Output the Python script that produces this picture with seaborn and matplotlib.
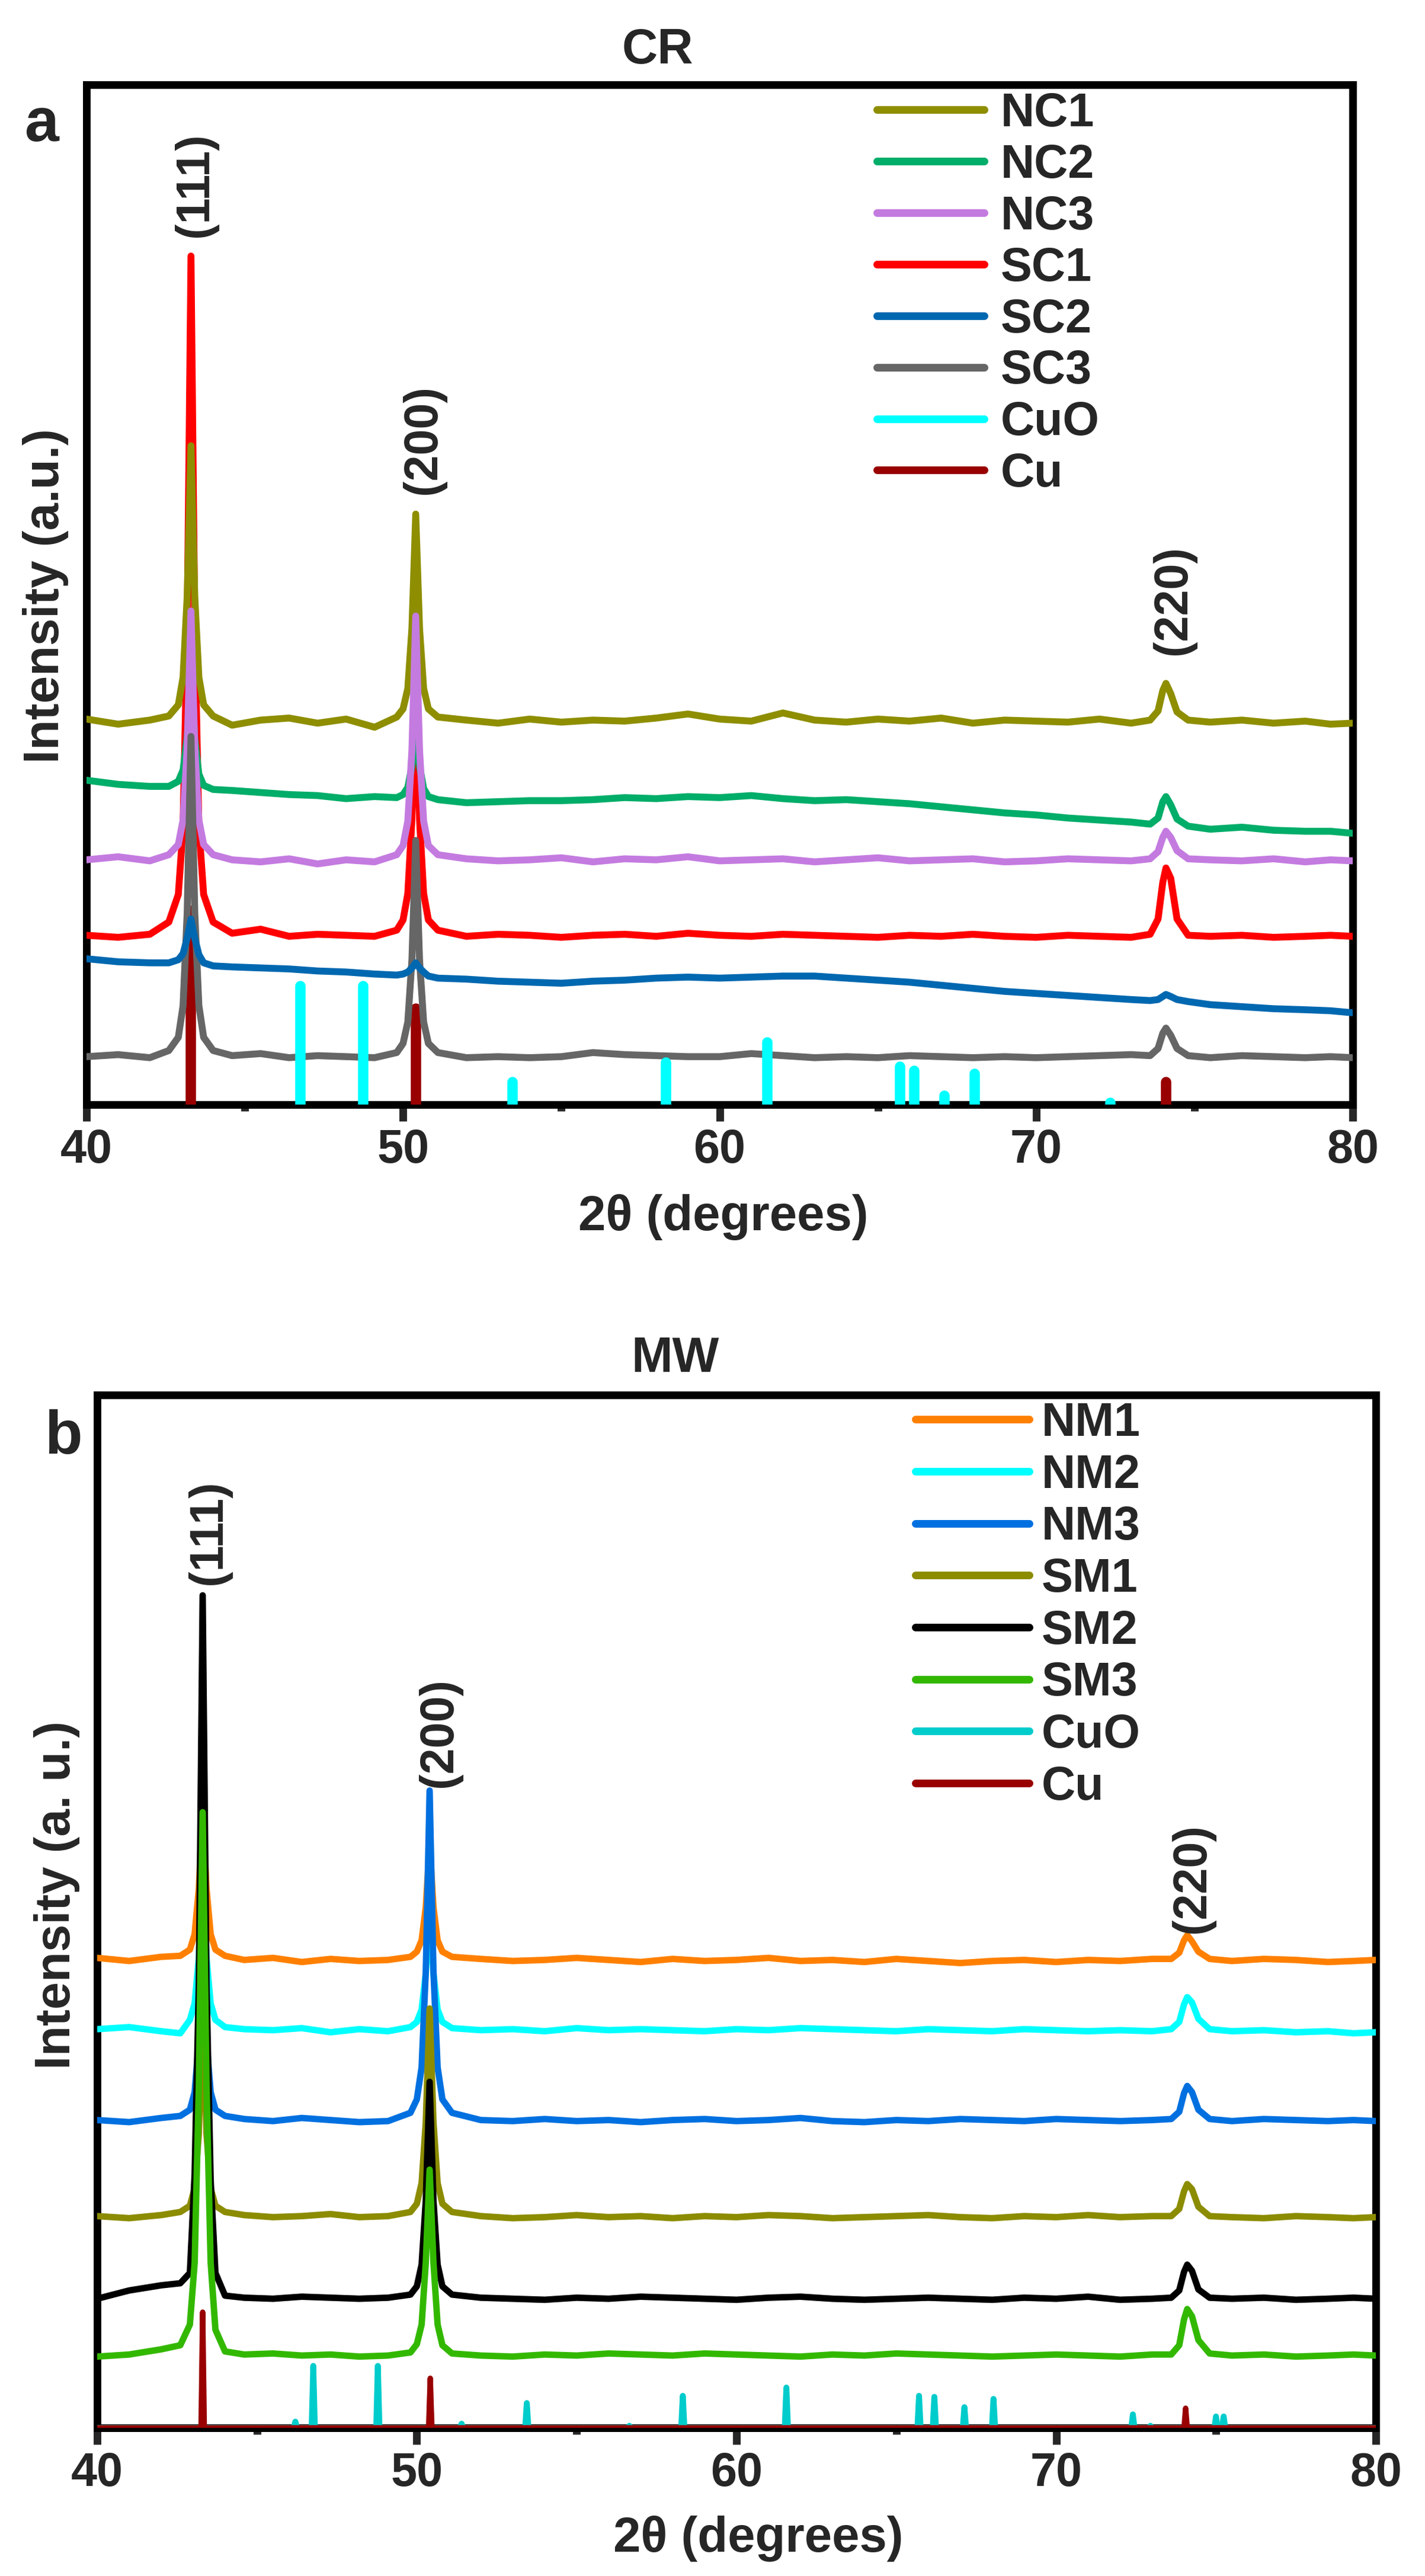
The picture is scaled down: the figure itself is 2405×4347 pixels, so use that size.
import matplotlib
matplotlib.use("Agg")
import matplotlib.pyplot as plt
import seaborn as sns
from matplotlib.collections import LineCollection
from matplotlib.legend_handler import HandlerLineCollection
from matplotlib.ticker import MultipleLocator

# shared 2-theta grid (degrees)
TT = [40, 41, 42,
      42.6, 42.9, 43.05, 43.18, 43.3, 43.42, 43.55, 43.7, 44.0,
      44.6, 45.5, 46.4, 47.3, 48.2, 49.1,
      49.8, 50.0, 50.15, 50.28, 50.4, 50.52, 50.65, 50.8, 51.1,
      52, 53, 54, 55, 56, 57, 58, 59, 60, 61, 62,
      63, 64, 65, 66, 67, 68, 69, 70, 71, 72, 73,
      73.6, 73.85, 74.0, 74.1, 74.25, 74.45, 74.8,
      75.5, 76.5, 77.5, 78.5, 79.3, 80]

# ---- panel a (CR), offset intensities, a.u. ----
NC1 = [378, 373, 377,
       381, 392, 419, 498, 646, 498, 419, 392, 381,
       372, 377, 379, 374, 378, 370,
       380, 388, 408, 467, 579, 467, 408, 388, 380,
       377, 374, 378, 375, 377, 376, 379, 383, 378, 376, 384,
       377, 375, 378, 376, 379, 374, 377, 376, 375, 378, 374,
       377, 386, 406, 413, 403, 385, 377,
       375, 377, 374, 376, 373, 374]
NC2 = [318, 314, 312,
       312, 317, 328, 360, 420, 358, 324, 313, 309,
       308, 306, 304, 303, 300, 302,
       301, 304, 311, 332, 370, 332, 310, 302, 299,
       296, 297, 298, 298, 299, 301, 300, 302, 301, 303, 300,
       298, 299, 297, 295, 292, 289, 286, 284, 281, 279, 277,
       275, 281, 297, 302, 294, 280, 273,
       270, 272, 269, 268, 268, 266]
NC3 = [240, 243, 239,
       245, 255, 279, 350, 484, 350, 279, 255, 245,
       240, 238, 241, 236, 240, 238,
       245, 254, 278, 348, 479, 348, 278, 254, 245,
       241, 239, 240, 242, 238, 241, 240, 243, 239, 240, 241,
       238, 240, 242, 239, 240, 241, 238, 239, 241, 240, 239,
       241, 248, 262, 268, 262, 249, 241,
       240, 239, 241, 238, 240, 239]
SC1 = [166, 164, 167,
       179, 206, 272, 466, 832, 466, 272, 206, 179,
       168, 172, 165, 167, 166, 165,
       171, 181, 207, 280, 420, 280, 207, 181, 171,
       165, 167, 166, 164, 166, 167, 165, 168, 166, 165, 167,
       166, 165, 164, 166, 165, 167, 165, 164, 166, 165, 164,
       167, 182, 218, 232, 222, 182, 166,
       165, 166, 164, 165, 166, 165]
SC2 = [143, 140, 139,
       139, 142, 148, 163, 182, 163, 147, 139, 136,
       135, 134, 133, 131, 130, 128,
       127, 128, 130, 134, 139, 134, 130, 126, 124,
       123, 121, 120, 119, 121, 122, 124, 125, 124, 125, 126,
       126, 124, 122, 120, 117, 114, 111, 109, 107, 105, 103,
       102, 103, 106, 108, 106, 103, 101,
       98, 96, 94, 93, 92, 90]
SC3 = [47, 49, 46,
       53, 66, 97, 188, 361, 188, 97, 66, 53,
       48, 50, 46, 48, 47, 46,
       51, 60, 81, 142, 259, 142, 81, 60, 51,
       46, 47, 46, 47, 51, 49, 48, 47, 47, 50, 48,
       46, 47, 46, 48, 47, 46, 47, 46, 47, 48, 49,
       48, 55, 70, 75, 68, 55, 48,
       46, 48, 47, 46, 47, 46]
CUO_A_POS = [46.75, 48.75, 53.45, 58.3, 61.5, 65.7, 66.15, 67.1, 68.05, 72.35]
CUO_A_H = [116, 116, 22, 41, 61, 37, 33, 9, 30, 2]
CU_A_POS = [43.3, 50.4, 74.1]
CU_A_H = [190, 94, 22]

# ---- panel b (MW) ----
NM1 = [455, 452, 456,
       457, 463, 478, 522, 604, 522, 478, 463, 457,
       453, 455, 451, 454, 452, 453,
       456, 461, 472, 504, 565, 504, 472, 461, 456,
       454, 452, 453, 455, 453, 451, 454, 452, 453, 455, 452,
       453, 451, 454, 452, 450, 452, 453, 451, 453, 452, 454,
       454, 460, 472, 477, 471, 461, 454,
       452, 454, 453, 451, 452, 453]
NM2 = [386, 388, 384,
       382, 395, 411, 455, 540, 455, 411, 395, 388,
       386, 385, 387, 383, 386, 384,
       388, 393, 405, 440, 505, 440, 405, 393, 387,
       385, 386, 384, 387, 385, 386, 385, 384, 386, 385, 387,
       386, 385, 384, 386, 385, 384, 386, 385, 384, 385, 384,
       386, 393, 410, 417, 412, 396, 386,
       384, 385, 383, 384, 382, 383]
NM3 = [298, 296, 300,
       302, 308, 325, 375, 470, 375, 325, 308, 302,
       299, 297, 300, 298, 296, 297,
       305, 318, 349, 442, 617, 442, 349, 318, 305,
       298, 297, 299, 297, 298, 296, 298, 299, 297, 298, 300,
       297, 296, 298, 297, 299, 298, 297, 299, 298, 297, 298,
       299, 306, 324, 331, 325, 308, 299,
       297, 299, 298, 297, 298, 297]
SM1 = [205, 203, 206,
       209, 215, 232, 285, 420, 285, 232, 215, 209,
       206, 204, 205, 207, 204, 205,
       209, 217, 237, 296, 406, 296, 237, 217, 209,
       205, 203, 204, 206, 204, 205, 203, 205, 204, 206, 205,
       203, 204, 205, 206, 204, 203, 205, 204, 206, 204, 205,
       205, 212, 229, 236, 231, 214, 205,
       204, 203, 205, 204, 203, 204]
SM2 = [125, 133, 138,
       140, 150, 246, 430, 806, 430, 240, 150, 128,
       126, 125, 127, 126, 125, 126,
       129, 137, 158, 220, 335, 220, 158, 137, 129,
       126, 125, 124, 126, 125, 127, 126, 125, 124, 126, 127,
       125, 124, 125, 126, 125, 124, 126, 125, 127, 124, 125,
       126, 133, 151, 158, 152, 134, 126,
       125, 126, 124, 125, 126, 125]
SM3 = [69, 71, 76,
       80, 100, 160, 330, 596, 330, 160, 95, 74,
       71, 72, 70, 71, 69, 70,
       73, 81, 100, 160, 250, 160, 100, 80, 72,
       70, 69, 71, 70, 72, 71, 70, 72, 71, 70, 69,
       71, 70, 72, 71, 70, 69, 70, 71, 70, 69, 71,
       71, 80, 105, 115, 108, 85, 72,
       70, 71, 69, 70, 71, 70]
CUO_B_POS = [46.2, 46.76, 48.78, 51.4, 53.44, 56.65, 58.32, 61.56, 65.71,
             66.19, 67.13, 68.04, 72.4, 72.95, 75.0, 75.24]
CUO_B_H = [6, 60, 60, 4, 24, 2, 31, 39, 31, 30, 20, 28, 13, 2, 11, 11]
CU_B_POS = [43.3, 50.42, 74.05]
CU_B_H = [112, 48, 19]

NAMES_A = ["NC1", "NC2", "NC3", "SC1", "SC2", "SC3"]
COLORS_A = ["#8e8e00", "#00ad69", "#c47be0", "#ff0000", "#0068b0", "#666666"]
Z_A = [3.2, 3.1, 3.3, 3.0, 3.5, 3.4]   # layering as seen in the picture
NAMES_B = ["NM1", "NM2", "NM3", "SM1", "SM2", "SM3"]
COLORS_B = ["#ff8000", "#00ffff", "#0070e0", "#8c8c00", "#000000", "#33b800"]

sns.set_style("white")
plt.rcParams["font.family"] = ["Liberation Sans", "DejaVu Sans"]
plt.rcParams["font.weight"] = "bold"
plt.rcParams["axes.labelweight"] = "bold"

fig = plt.figure(figsize=(2405 / 300, 4347 / 300), dpi=300)
ax_a = fig.add_axes([0.06071, 0.57120, 0.88857, 0.39591])
ax_b = fig.add_axes([0.06819, 0.05751, 0.89730, 0.40097])


def style_axes(ax):
    ax.set_xlim(40, 80)
    ax.set_ylim(0, 1000)
    ax.xaxis.set_major_locator(MultipleLocator(10))
    ax.xaxis.set_minor_locator(MultipleLocator(5))
    ax.set_yticks([])
    ax.tick_params(axis="x", which="major", bottom=True, direction="out",
                   length=6.7, width=3.1, labelsize=19, pad=3)
    ax.tick_params(axis="x", which="minor", bottom=True, direction="out",
                   length=2.6, width=3.1)
    for sp in ax.spines.values():
        sp.set_visible(True)
        sp.set_linewidth(3.1)
        sp.set_color("black")


def stick_trace(pos, heights):
    xs, ys = [40], [0]
    for p, h in zip(pos, heights):
        xs += [p - 0.05, p, p + 0.05]
        ys += [0, h, 0]
    xs.append(80)
    ys.append(0)
    return xs, ys


def round_handles(leg):
    for lh in leg.get_lines():
        lh.set_linewidth(3.1)
        lh.set_solid_capstyle("round")


# ---------- panel a ----------
series_a = [NC1, NC2, NC3, SC1, SC2, SC3]
for name, vals, col, z in zip(NAMES_A, series_a, COLORS_A, Z_A):
    sns.lineplot(x=TT, y=vals, ax=ax_a, color=col, lw=2.8, label=name,
                 sort=False, estimator=None, zorder=z)
cuo_a = ax_a.vlines(CUO_A_POS, 0, CUO_A_H, color="#00ffff", lw=4.2,
                    capstyle="round", zorder=3.6, label="CuO")
cu_a = ax_a.vlines(CU_A_POS, 0, CU_A_H, color="#990000", lw=4.2,
                   capstyle="round", zorder=3.35, label="Cu")
style_axes(ax_a)

h_a = ax_a.get_lines()[:6] + [cuo_a, cu_a]


def thin_handle(legline, orig):
    legline.set_color(orig.get_colors()[0])
    legline.set_linewidth(3.1)
    legline.set_solid_capstyle("round")


leg_a = ax_a.legend(h_a, NAMES_A + ["CuO", "Cu"], loc="upper left",
                    bbox_to_anchor=(0.6242, 0.993), frameon=False,
                    prop={"size": 19, "weight": "bold"}, handlelength=2.29,
                    handletextpad=0.35, labelspacing=0.15, borderaxespad=0,
                    borderpad=0,
                    handler_map={LineCollection: HandlerLineCollection(update_func=thin_handle)})
round_handles(leg_a)

ax_a.set_xlabel("2θ (degrees)", fontsize=20, fontweight="bold")
ax_a.xaxis.set_label_coords(0.503, -0.0877)
ax_a.set_ylabel("Intensity (a.u.)", fontsize=20, fontweight="bold")
ax_a.yaxis.set_label_coords(-0.014, 0.499)
ax_a.text(0.451, 1.021, "CR", transform=ax_a.transAxes, ha="center",
          va="baseline", fontsize=20, fontweight="bold")
ax_a.text(-0.0487, 0.9448, "a", transform=ax_a.transAxes, ha="left",
          va="baseline", fontsize=25, fontweight="bold")
xt = ax_a.get_xaxis_transform()
ax_a.text(43.44, 0.902, "(111)", transform=xt, rotation=90, ha="center",
          va="center", fontsize=19, fontweight="bold")
ax_a.text(50.65, 0.6525, "(200)", transform=xt, rotation=90, ha="center",
          va="center", fontsize=19, fontweight="bold")
ax_a.text(74.34, 0.495, "(220)", transform=xt, rotation=90, ha="center",
          va="center", fontsize=19, fontweight="bold")

# ---------- panel b ----------
series_b = [NM1, NM2, NM3, SM1, SM2, SM3]
for i, (name, vals, col) in enumerate(zip(NAMES_B, series_b, COLORS_B)):
    sns.lineplot(x=TT, y=vals, ax=ax_b, color=col, lw=2.6, label=name,
                 sort=False, estimator=None, zorder=3 + 0.1 * i)
xs, ys = stick_trace(CUO_B_POS, CUO_B_H)
sns.lineplot(x=xs, y=ys, ax=ax_b, color="#00cccc", lw=2.4, label="CuO",
             sort=False, estimator=None, zorder=3.7)
xs, ys = stick_trace(CU_B_POS, CU_B_H)
sns.lineplot(x=xs, y=ys, ax=ax_b, color="#990000", lw=2.2, label="Cu",
             sort=False, estimator=None, zorder=3.8)
for ln in ax_b.get_lines()[6:]:
    ln.set_solid_joinstyle("round")
style_axes(ax_b)

leg_b = ax_b.legend(loc="upper left", bbox_to_anchor=(0.64, 0.9937),
                    frameon=False, prop={"size": 19, "weight": "bold"},
                    handlelength=2.43, handletextpad=0.25, labelspacing=0.16,
                    borderaxespad=0, borderpad=0)
round_handles(leg_b)

ax_b.set_xlabel("2θ (degrees)", fontsize=20, fontweight="bold")
ax_b.xaxis.set_label_coords(0.517, -0.0849)
ax_b.set_ylabel("Intensity (a. u.)", fontsize=20, fontweight="bold")
ax_b.yaxis.set_label_coords(-0.0135, 0.516)
ax_b.text(0.452, 1.0224, "MW", transform=ax_b.transAxes, ha="center",
          va="baseline", fontsize=20, fontweight="bold")
ax_b.text(-0.0412, 0.9432, "b", transform=ax_b.transAxes, ha="left",
          va="baseline", fontsize=25, fontweight="bold")
xt = ax_b.get_xaxis_transform()
ax_b.text(43.5, 0.867, "(111)", transform=xt, rotation=90, ha="center",
          va="center", fontsize=19, fontweight="bold")
ax_b.text(50.70, 0.673, "(200)", transform=xt, rotation=90, ha="center",
          va="center", fontsize=19, fontweight="bold")
ax_b.text(74.27, 0.532, "(220)", transform=xt, rotation=90, ha="center",
          va="center", fontsize=19, fontweight="bold")

fig.savefig("out.png", dpi=300)
plt.close(fig)
